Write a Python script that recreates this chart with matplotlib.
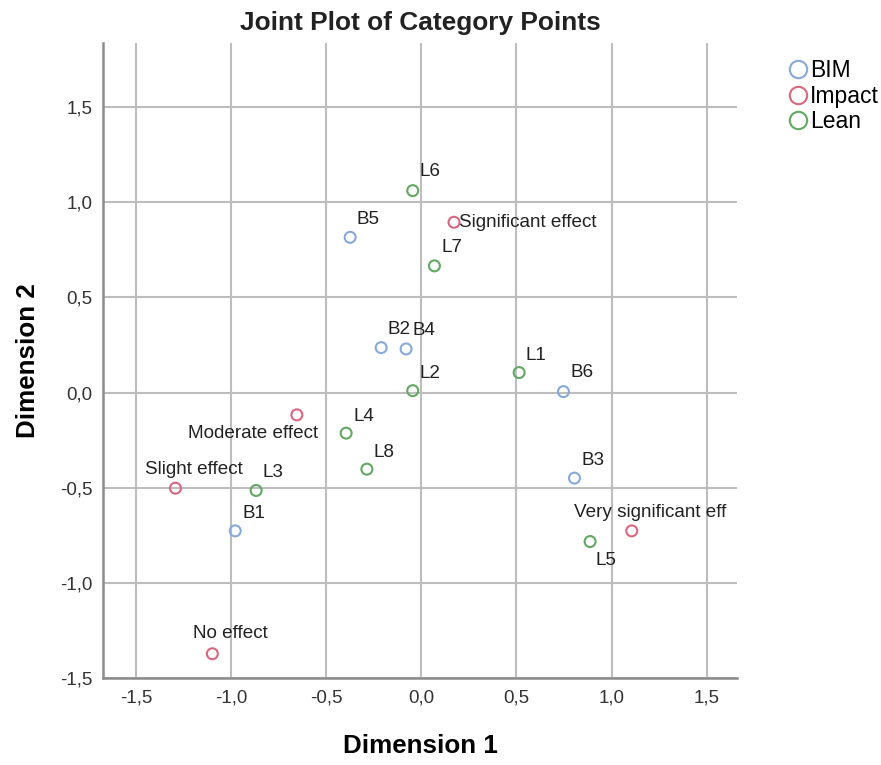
import matplotlib.pyplot as plt
from matplotlib.ticker import FuncFormatter, MultipleLocator

plt.rcParams['font.family'] = ['Liberation Sans', 'DejaVu Sans']

# category points (dimension 1, dimension 2)
bim_names = ['B1', 'B2', 'B3', 'B4', 'B5', 'B6']
bim_x = [-0.978, -0.211, 0.805, -0.080, -0.374, 0.747]
bim_y = [-0.726, 0.236, -0.449, 0.229, 0.815, 0.005]

impact_names = ['No effect', 'Slight effect', 'Moderate effect',
                'Significant effect', 'Very significant eff']
impact_x = [-1.098, -1.292, -0.654, 0.172, 1.106]
impact_y = [-1.371, -0.502, -0.117, 0.894, -0.726]

lean_names = ['L1', 'L2', 'L3', 'L4', 'L5', 'L6', 'L7', 'L8']
lean_x = [0.514, -0.045, -0.868, -0.395, 0.887, -0.045, 0.069, -0.286]
lean_y = [0.105, 0.010, -0.514, -0.213, -0.782, 1.060, 0.665, -0.402]

# label placement in pixels (dx, dy down, ha)
offs = {
    'B1': (7, -17, 'left'), 'B2': (6, -18, 'left'), 'B3': (7, -18, 'left'),
    'B4': (6, -18, 'left'), 'B5': (6, -18, 'left'), 'B6': (7, -19, 'left'),
    'No effect': (-19, -20, 'left'), 'Slight effect': (-30, -19, 'left'),
    'Moderate effect': (21, 19, 'right'), 'Significant effect': (5, 0, 'left'),
    'Very significant eff': (-58, -18, 'left'),
    'L1': (6, -17, 'left'), 'L2': (7, -17, 'left'), 'L3': (6, -18, 'left'),
    'L4': (7, -17, 'left'), 'L5': (5, 19, 'left'), 'L6': (7, -19, 'left'),
    'L7': (7, -18, 'left'), 'L8': (7, -17, 'left'),
}

c_bim = '#86a9dc'
c_imp = '#d9667f'
c_lean = '#62a862'

fig = plt.figure(figsize=(8.81, 7.65), dpi=100)
ax = fig.add_axes([0.1173, 0.1133, 0.719, 0.831])

groups = [('BIM', bim_names, bim_x, bim_y, c_bim),
          ('Impact', impact_names, impact_x, impact_y, c_imp),
          ('Lean', lean_names, lean_x, lean_y, c_lean)]

for lab, names, xs, ys, col in groups:
    ax.scatter(xs, ys, s=62, facecolors='none', edgecolors=col, linewidths=1.5, zorder=3)
    for n, x, y in zip(names, xs, ys):
        dx, dy, ha = offs[n]
        ax.annotate(n, (x, y), xytext=(dx * 0.72, -dy * 0.72), textcoords='offset points',
                    ha=ha, va='center', fontsize=13.6, color='#222222', zorder=4)

ax.set_xlim(-1.671, 1.658)
ax.set_ylim(-1.5, 1.837)
ax.xaxis.set_major_locator(MultipleLocator(0.5))
ax.yaxis.set_major_locator(MultipleLocator(0.5))
fmt = FuncFormatter(lambda v, p: ('%.1f' % v).replace('.', ',').replace('-0,0', '0,0'))
ax.xaxis.set_major_formatter(fmt)
ax.yaxis.set_major_formatter(fmt)
ax.tick_params(length=0, labelsize=13.5, labelcolor='#333333', pad=8)
ax.grid(True, color='#bdbdbd', linewidth=1.5)
ax.set_axisbelow(True)
for s in ['top', 'right']:
    ax.spines[s].set_visible(False)
for s in ['left', 'bottom']:
    ax.spines[s].set_color('#8c8c8c')
    ax.spines[s].set_linewidth(1.8)

ax.set_xlabel('Dimension 1', fontsize=18.7, fontweight='bold', labelpad=20)
ax.set_ylabel('Dimension 2', fontsize=18.7, fontweight='bold', labelpad=14)
fig.text(0.477, 0.970, 'Joint Plot of Category Points', ha='center', va='center',
         fontsize=18.9, fontweight='bold', color='#222222')

handles = [plt.Line2D([], [], marker='o', ls='none', markersize=12.5, markerfacecolor='none',
                      markeredgecolor=c, markeredgewidth=1.5) for c in (c_bim, c_imp, c_lean)]
fig.legend(handles, ['BIM', 'Impact', 'Lean'], loc='upper left',
           bbox_to_anchor=(0.882, 0.935), frameon=False, fontsize=16.5,
           handletextpad=0.05, labelspacing=0.12, handlelength=1.0, borderaxespad=0)

plt.savefig('out.png', dpi=100)
